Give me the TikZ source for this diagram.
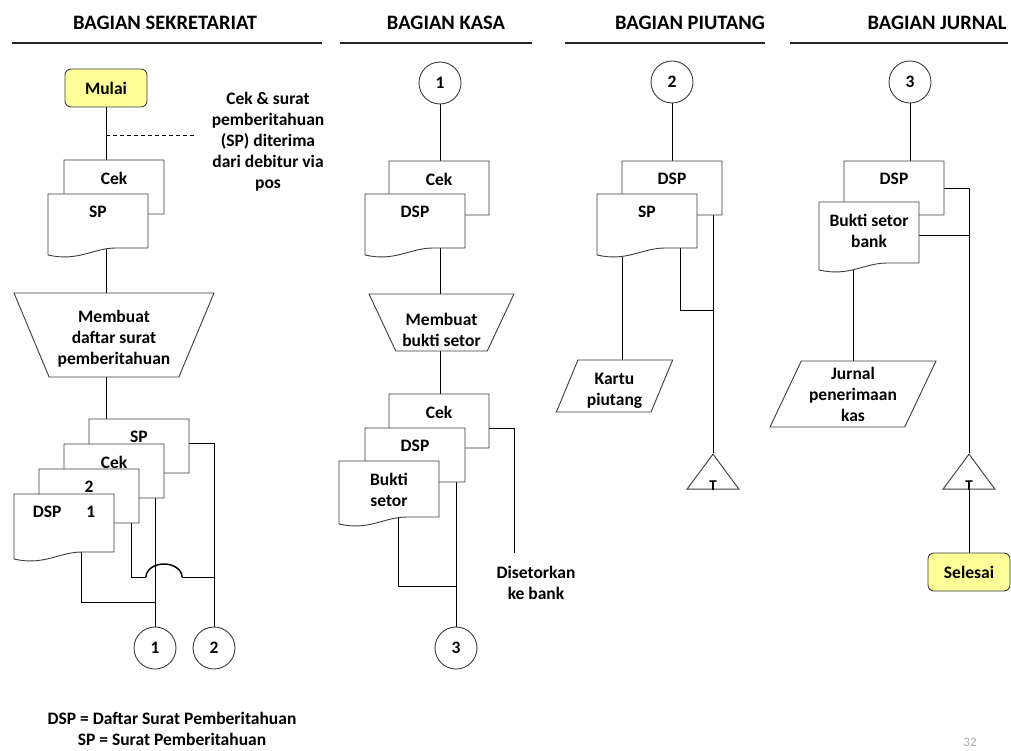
\documentclass[tikz,border=0pt]{standalone}
\usepackage{fontspec}
\setmainfont{Carlito}
\usepackage{xcolor}
\definecolor{kuningMulai}{RGB}{255, 255, 153}
\definecolor{garisAbu}{RGB}{60, 60, 60}
\definecolor{nomorAbu}{RGB}{170, 170, 170}
\usepackage{tikz}
\usetikzlibrary{positioning,shapes.geometric,backgrounds}

\tikzset{
  teks/.style={font=\bfseries\fontsize{17.5}{21}\selectfont, align=center},
  judul/.style={font=\bfseries\fontsize{20.5}{24}\selectfont},
  terminal/.style={teks, rectangle, rounded corners=6pt, draw=garisAbu, line width=0.9pt, fill=kuningMulai, minimum width=82pt, minimum height=38pt},
  konektor/.style={teks, circle, draw=garisAbu, line width=0.9pt, fill=white, minimum size=42pt, inner sep=0pt},
  manual/.style={teks, trapezium, trapezium stretches=true, shape border rotate=180, trapezium angle=65, draw=garisAbu, line width=0.9pt, fill=white, inner sep=0pt},
  dataio/.style={teks, trapezium, trapezium stretches=true, draw=garisAbu, line width=0.9pt, fill=white, inner sep=0pt},
  arsip/.style={isosceles triangle, isosceles triangle stretches=true, shape border rotate=90, minimum width=52pt, minimum height=35pt, draw=garisAbu, line width=0.9pt, fill=white, inner sep=0pt, anchor=apex,
    label={[font=\bfseries\fontsize{15}{15}\selectfont, anchor=south, inner sep=0pt, yshift=-1pt]-90:T}},
  dok/.style={draw=garisAbu, line width=0.9pt, fill=white, line join=miter},
  dokbox/.style={rectangle, anchor=north west, minimum width=100pt, inner sep=0pt, outer sep=0pt},
  doklabel/.style={teks, anchor=north, inner sep=0pt, yshift=-12.3pt}
}

% dokumen: [tinggi]{nama}{pojok kiri atas}{teks}
\newcommand{\dokumen}[4][54]{%
  \draw[dok] (#3) -- ++(100,0) -- ++(0,#1) -- ++(-32,0)
    .. controls +(-23,0) and +(30,7) .. ++(-68,7) -- cycle;
  \node[dokbox, minimum height=#1pt, label={[doklabel]north:{#4}}] (#2) at (#3) {};
}

\begin{document}
\begin{tikzpicture}[x=1pt, y=-1pt]
\useasboundingbox (0,0) rectangle (1011,751);

% judul bagian
\node[judul] (jSek) at (165,23) {BAGIAN SEKRETARIAT};
\node[judul] (jKasa) at (446,23) {BAGIAN KASA};
\node[judul] (jPiutang) at (690,23) {BAGIAN PIUTANG};
\node[judul] (jJurnal) at (937,23) {BAGIAN JURNAL};
\foreach \a/\b in {12/322, 340/532, 565/765, 790/1008}
  \draw[line width=1.8pt, draw=black!85] (\a,43) -- (\b,43);

% bagian sekretariat
\node[terminal] (mulai) at (106,88) {Mulai};
\node[teks] (catatanTeks) at (268,142) {Cek \& surat\\pemberitahuan\\(SP) diterima\\dari debitur via\\pos};
\coordinate (catatan) at (197,135);
\dokumen{cekA}{64,160}{Cek}
\dokumen{spA}{48,194}{SP}
\node[manual, minimum width=200pt, minimum height=84pt] (buatA) at (114,335) {\rule{0pt}{20.5pt}Membuat\\daftar surat\\pemberitahuan};
\dokumen{spB}{89,419}{SP}
\dokumen{cekB}{64,444}{Cek}
\dokumen{duaB}{39,469}{2}
\dokumen[58]{dspB}{14,494}{DSP\hspace{25pt}1}
\node[konektor] (c1A) at (155,648) {1};
\node[konektor] (c2A) at (214,648) {2};
\coordinate (lompat) at (155,577);
\coordinate (gabungA) at (155,602);
\node[teks] (legenda) at (172,729) {DSP = Daftar Surat Pemberitahuan\\SP = Surat Pemberitahuan};

% bagian kasa
\node[konektor] (c1K) at (440,83) {1};
\dokumen{cekK1}{389,161}{Cek}
\dokumen{dspK1}{365,194}{DSP}
\node[manual, minimum width=145pt, minimum height=57pt] (buatK) at (441.5,322.5) {\rule{0pt}{28pt}Membuat\\bukti setor};
\dokumen{cekK2}{389,394}{Cek}
\dokumen{dspK2}{365,428}{DSP}
\dokumen[56]{buktiK}{339,461}{Bukti\\setor}
\coordinate (setor) at (514,553);
\node[teks] (ketSetor) at (536,583) {Disetorkan\\ke bank};
\coordinate (gabungK) at (456,586);
\node[konektor] (c3K) at (456,648) {3};

% bagian piutang
\node[konektor] (c2P) at (672,82) {2};
\dokumen{dspP}{622,161}{DSP}
\dokumen{spP}{597,194}{SP}
\coordinate (gabungP) at (713,310);
\node[dataio, trapezium left angle=70, trapezium right angle=110, minimum width=117pt, minimum height=52pt] (kartu) at (614.5,386) {\rule{0pt}{21pt}Kartu\\piutang};
\node[arsip] (arsipP) at (713,453) {};

% bagian jurnal
\node[konektor] (c3J) at (910,82) {3};
\dokumen{dspJ}{844,161}{DSP}
\dokumen[61]{buktiJ}{819,202}{Bukti setor\\bank}
\node[dataio, trapezium left angle=64, trapezium right angle=116, minimum width=166pt, minimum height=66pt] (jurnal) at (853,394) {Jurnal\\penerimaan\\kas};
\node[arsip] (arsipJ) at (969,453) {};
\node[terminal] (selesai) at (969,572) {Selesai};

\node[font=\fontsize{13}{13}\selectfont, text=nomorAbu] (halaman) at (970,742) {32};

% garis alir
\begin{scope}[on background layer, line width=0.9pt, draw=garisAbu]
\draw (mulai) -- (mulai |- cekA.north);
\draw[dash pattern=on 4pt off 3pt] (mulai |- catatan) -- (catatan);
\draw (mulai |- spA.south) -- (mulai |- buatA.center);
\draw (mulai |- buatA.center) -- (mulai |- spB.north);
\draw (spB.east) ++(0,-3) -| (c2A);
\draw (cekB.south -| c1A) -- (c1A);
\draw ([xshift=42pt]duaB.south) |- ([xshift=-9pt]lompat);
\draw[line width=1.5pt] ([xshift=-9pt]lompat) arc[start angle=180, end angle=0, x radius=18pt, y radius=13pt];
\draw ([xshift=27pt]lompat) -- (lompat -| c2A);
\draw ([xshift=17pt]dspB.south) |- (gabungA);

\draw (c1K) -- (c1K |- cekK1.north);
\draw (c1K |- dspK1.south) -- (c1K |- buatK.center);
\draw (c1K |- buatK.center) -- (c1K |- cekK2.north);
\draw (cekK2.east) ++(0,7) -| (setor);
\draw (dspK2.south -| c3K) -- (c3K);
\draw ([xshift=9pt]buktiK.south) |- (gabungK);

\draw (c2P) -- (c2P |- dspP.north);
\draw (dspP.south -| arsipP.apex) -- (arsipP.apex);
\draw ([xshift=33pt]spP.south) |- (gabungP);
\draw ([xshift=-25pt]spP.south) |- (kartu.center);

\draw (c3J) -- (c3J |- dspJ.north);
\draw (dspJ.east) -| (arsipJ.apex);
\draw (buktiJ.east) ++(0,3) -| (arsipJ.apex);
\draw (jurnal.center |- buktiJ.south) -- (jurnal.center);
\draw (selesai) -- (arsipJ);
\end{scope}
\end{tikzpicture}
\end{document}
